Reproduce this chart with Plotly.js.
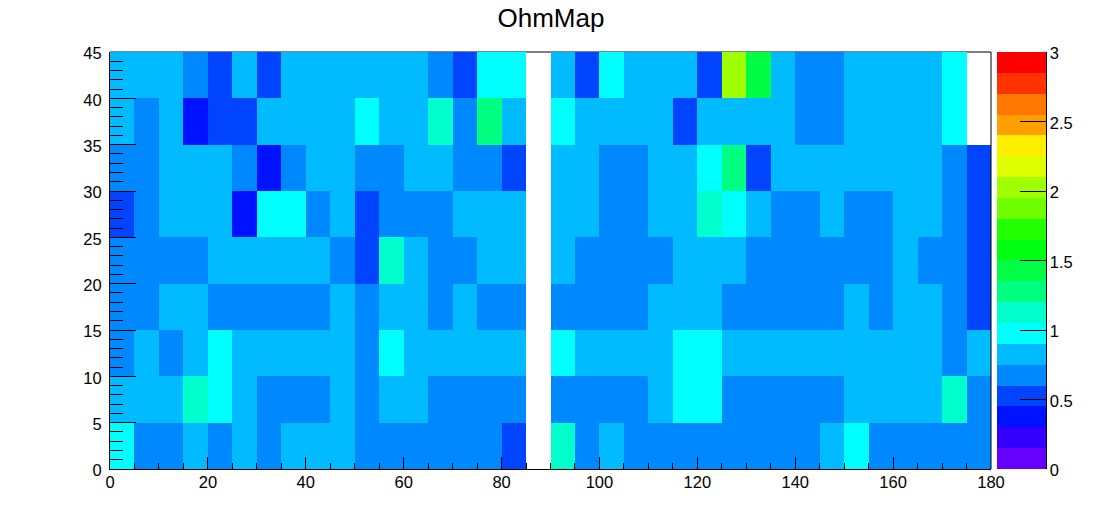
<!DOCTYPE html>
<html>
<head>
<meta charset="utf-8">
<script src="https://cdn.plot.ly/plotly-3.0.1.min.js"></script>
<style>html,body{margin:0;padding:0;background:#fff}#chart{width:1102px;height:522px}</style>
</head>
<body>
<div id="chart"></div>
<script>
// Values, bottom row (y 0-5) first, 36 columns of width 5
var row0 = [0.98,0.68,0.68,0.82,0.68,0.82,0.68,0.82,0.82,0.82,0.68,0.68,0.68,0.68,0.68,0.68,0.52,null,1.12,0.68,0.82,0.68,0.68,0.68,0.68,0.68,0.68,0.68,0.68,0.82,0.98,0.68,0.68,0.68,0.68,0.68];
var row1 = [0.82,0.82,0.82,1.12,0.98,0.82,0.68,0.68,0.68,0.82,0.68,0.82,0.82,0.68,0.68,0.68,0.68,null,0.68,0.68,0.68,0.68,0.82,0.98,0.98,0.68,0.68,0.68,0.68,0.68,0.82,0.82,0.82,0.82,1.12,0.68];
var row2 = [0.68,0.82,0.68,0.82,0.98,0.82,0.82,0.82,0.82,0.82,0.68,0.98,0.82,0.82,0.82,0.82,0.82,null,0.98,0.82,0.82,0.82,0.82,0.98,0.98,0.82,0.82,0.82,0.82,0.82,0.82,0.82,0.82,0.82,0.68,0.82];
var row3 = [0.68,0.68,0.82,0.82,0.68,0.68,0.68,0.68,0.68,0.82,0.68,0.82,0.82,0.68,0.82,0.68,0.68,null,0.68,0.68,0.68,0.68,0.82,0.82,0.82,0.68,0.68,0.68,0.68,0.68,0.82,0.68,0.82,0.82,0.68,0.52];
var row4 = [0.68,0.68,0.68,0.68,0.82,0.82,0.82,0.82,0.82,0.68,0.52,1.12,0.82,0.68,0.68,0.82,0.82,null,0.82,0.68,0.68,0.68,0.68,0.82,0.82,0.82,0.68,0.68,0.68,0.68,0.68,0.68,0.82,0.68,0.68,0.52];
var row5 = [0.52,0.68,0.82,0.82,0.82,0.38,0.98,0.98,0.68,0.82,0.52,0.68,0.68,0.68,0.82,0.82,0.82,null,0.82,0.82,0.68,0.68,0.82,0.82,1.12,0.98,0.82,0.68,0.68,0.82,0.68,0.68,0.82,0.82,0.68,0.52];
var row6 = [0.68,0.68,0.82,0.82,0.82,0.68,0.38,0.68,0.82,0.82,0.68,0.68,0.82,0.82,0.68,0.68,0.52,null,0.82,0.82,0.68,0.68,0.82,0.82,0.98,1.28,0.52,0.82,0.82,0.82,0.82,0.82,0.82,0.82,0.68,0.52];
var row7 = [0.82,0.68,0.82,0.38,0.52,0.52,0.82,0.82,0.82,0.82,0.98,0.82,0.82,1.12,0.68,1.28,0.82,null,0.98,0.82,0.82,0.82,0.82,0.52,0.82,0.82,0.82,0.82,0.68,0.68,0.82,0.82,0.82,0.82,0.98,null];
var row8 = [0.82,0.82,0.82,0.68,0.52,0.82,0.52,0.82,0.82,0.82,0.82,0.82,0.82,0.68,0.52,0.98,0.98,null,0.82,0.52,0.98,0.82,0.82,0.82,0.52,2.02,1.42,0.82,0.68,0.68,0.82,0.82,0.82,0.82,0.98,null];

var paletteColors = ['#6600ff','#3300ff','#0011ff','#0044ff','#0088ff','#00bbff','#00ffff','#00ffcc','#00ff80','#00ff44',
                     '#00ff11','#22ff00','#70ff00','#a0ff00','#ddff00','#ffee00','#ffa000','#ff7700','#ff3300','#ff0000'];
var titleText = 'OhmMap';

var stepped = [];
paletteColors.forEach(function (c, i) {
  stepped.push([i / paletteColors.length, c]);
  stepped.push([(i + 1) / paletteColors.length, c]);
});

var fontFamily = '"Liberation Sans", Arial, sans-serif';
var tickFont = {family: fontFamily, size: 16.5, color: '#000'};

var plotW = 881;
function px(x) { return (x - 110) / plotW; }

var trace = {
  type: 'heatmap',
  z: [row0, row1, row2, row3, row4, row5, row6, row7, row8],
  x0: 2.5, dx: 5, y0: 2.5, dy: 5,
  zmin: 0, zmax: 3,
  zsmooth: false,
  colorscale: stepped,
  colorbar: {
    thickness: 49, thicknessmode: 'pixels',
    len: 417, lenmode: 'pixels',
    x: px(997), xanchor: 'left', xpad: 0,
    y: 0.5, yanchor: 'middle', ypad: 0,
    outlinewidth: 0, borderwidth: 0,
    ticks: 'inside', ticklen: 26, tickwidth: 1, tickcolor: '#000',
    tick0: 0, dtick: 0.5, tickformat: '~g',
    tickfont: tickFont
  }
};

var layout = {
  width: 1102, height: 522,
  margin: {l: 110, r: 111, t: 52, b: 53, pad: 0, autoexpand: false},
  paper_bgcolor: '#fff', plot_bgcolor: '#fff',
  font: {family: fontFamily, color: '#000'},
  title: {text: titleText, font: {family: fontFamily, size: 26, color: '#000'},
          x: 0.5, xref: 'container', xanchor: 'center', y: 0.965, yref: 'container', yanchor: 'middle'},
  xaxis: {
    range: [0, 180], tick0: 0, dtick: 20, ticks: 'inside', ticklen: 12, tickwidth: 1, tickcolor: '#000',
    minor: {tick0: 0, dtick: 5, ticks: 'inside', ticklen: 6, tickwidth: 1, tickcolor: '#000', showgrid: false},
    showgrid: false, zeroline: false, showline: true, linecolor: '#000', linewidth: 1,
    ticklabelstandoff: -2,
    tickfont: tickFont, fixedrange: true
  },
  yaxis: {
    range: [0, 45], tick0: 0, dtick: 5, ticks: 'inside', ticklen: 26, tickwidth: 1, tickcolor: '#000',
    minor: {tick0: 0, dtick: 1, ticks: 'inside', ticklen: 13, tickwidth: 1, tickcolor: '#000', showgrid: false},
    showgrid: false, zeroline: false, showline: true, linecolor: '#000', linewidth: 1,
    ticklabelstandoff: 4,
    tickfont: tickFont, fixedrange: true
  },
  shapes: [
    {type: 'line', xref: 'paper', yref: 'paper', x0: 1, x1: 1, y0: 0, y1: 1, line: {color: '#000', width: 1}, layer: 'above'},
    {type: 'line', xref: 'paper', yref: 'paper', x0: 0, x1: 1, y0: 1, y1: 1, line: {color: '#000', width: 1}, layer: 'below'},
    {type: 'line', xref: 'paper', yref: 'paper', x0: px(1046.5), x1: px(1046.5), y0: 0, y1: 1, line: {color: '#000', width: 1}, layer: 'above'}
  ]
};

Plotly.newPlot('chart', [trace], layout, {displayModeBar: false, staticPlot: true}).then(function (gd) {
  // The reference sets vertical-axis labels slightly below their ticks
  gd.querySelectorAll('.ytick text, .colorbar .cbaxis text, .colorbar text').forEach(function (t) {
    var y = parseFloat(t.getAttribute('y'));
    if (!isNaN(y)) t.setAttribute('y', y + 1.5);
  });
});
</script>
</body>
</html>
